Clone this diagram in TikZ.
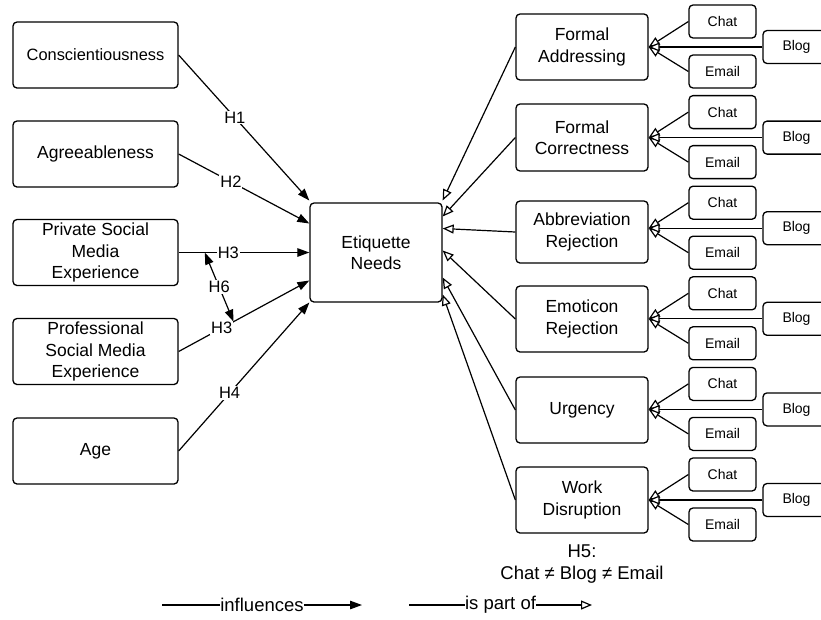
\documentclass[tikz,border=0pt]{standalone}
\usepackage{fontspec}
\setmainfont{Liberation Sans}
\usetikzlibrary{arrows.meta,calc}
\begin{document}
\begin{tikzpicture}[x=1pt,y=-1pt,
  box/.style={draw, line width=1.3pt, rounded corners=4pt, align=center, inner sep=0pt,
    font=\fontsize{17.5}{21.5}\selectfont},
  leftbox/.style={box, minimum width=165pt, minimum height=66pt},
  midbox/.style={box, minimum width=132pt, minimum height=66pt},
  smallbox/.style={draw, line width=1.3pt, rounded corners=4pt, inner sep=0pt,
    minimum width=67pt, minimum height=33pt, font=\fontsize{14}{16}\selectfont},
  infl/.style={line width=1.2pt, -{Triangle[length=12pt,width=8.5pt]}},
  part/.style={line width=1.2pt, -{Triangle[length=11pt,width=9pt,fill=white]}},
  lbl/.style={fill=white, inner sep=1pt, font=\fontsize{16.5}{19}\selectfont},
  leglbl/.style={fill=white, inner sep=0.5pt, font=\fontsize{18.5}{21}\selectfont},
  txt/.style={align=center, inner sep=0pt, font=\fontsize{18.5}{22}\selectfont}]
\useasboundingbox (0,0) rectangle (821,619);
\clip (0,0) rectangle (821,619);

% left column
\node[leftbox, font=\fontsize{16.4}{20}\selectfont] (con) at (95.5,55) {Conscientiousness};
\node[leftbox] (agr) at (95.5,154) {Agreeableness};
\node[leftbox] (pri) at (95.5,252.5) {Private Social\\Media\\Experience};
\node[leftbox] (pro) at (95.5,351.5) {Professional\\Social Media\\Experience};
\node[leftbox] (age) at (95.5,451) {Age};

% centre
\node[box, minimum width=132pt, minimum height=99pt] (etq) at (376,252.5) {Etiquette\\Needs};

% middle-right column
\node[midbox] (fa) at (582,47) {Formal\\Addressing};
\node[midbox, minimum height=67pt] (fc) at (582,137.5) {Formal\\Correctness};
\node[midbox, minimum height=62pt] (ab) at (582,232) {Abbreviation\\Rejection};
\node[midbox] (em) at (582,319) {Emoticon\\Rejection};
\node[midbox] (ur) at (582,410) {Urgency};
\node[midbox] (wd) at (582,500) {Work\\Disruption};

% channels
\foreach \m [count=\i from 0] in {fa,fc,ab,em,ur,wd} {
  \pgfmathsetmacro{\yc}{21.5+90.6*\i}
  \pgfmathsetmacro{\ye}{71.5+90.6*\i}
  \pgfmathsetmacro{\yb}{47+90.6*\i}
  \node[smallbox] (chat\i) at (722.5,\yc) {Chat};
  \node[smallbox] (mail\i) at (722.5,\ye) {Email};
  \node[smallbox] (blog\i) at (796.5,\yb) {Blog};
  \coordinate (t\i) at (blog\i.west -| \m.east);
  \draw[part] (chat\i.west) -- (t\i);
  \draw[part] (mail\i.west) -- (t\i);
  \draw[part] (blog\i.west) -- (t\i);
}

% influences
\draw[infl] (con.east) -- node[lbl, pos=0.43] {H1} ($(etq.west)+(0,-52)$);
\draw[infl] (agr.east) -- node[lbl, pos=0.4] {H2} ($(etq.west)+(0,-29)$);
\draw[infl] (pri.east) -- node[lbl, pos=0.38] {H3} (etq.west)
  coordinate[pos=0.2] (h6a);
\draw[infl] (pro.east) -- node[lbl, pos=0.33] {H3} ($(etq.west)+(0,28)$)
  coordinate[pos=0.42] (h6b);
\draw[infl] (age.east) -- node[lbl, pos=0.39] {H4} ($(etq.west)+(0,50)$);
\draw[line width=1.2pt, {Triangle[length=12pt,width=8.5pt]}-{Triangle[length=12pt,width=8.5pt]}]
  (h6a) -- node[lbl] {H6} (h6b);

% is part of
\draw[part] (fa.west) -- ($(etq.east)+(0,-52)$);
\draw[part] (fc.west) -- ($(etq.east)+(0,-36)$);
\draw[part] (ab.west) -- ($(etq.east)+(0,-24)$);
\draw[part] (em.west) -- ($(etq.east)+(0,-2)$);
\draw[part] (ur.west) -- ($(etq.east)+(0,25)$);
\draw[part] (wd.west) -- ($(etq.east)+(0,42)$);

% H5
\node[txt] (h5) at (582,564) {H5:\\Chat ≠ Blog ≠ Email};

% legend
\coordinate (la) at (162,605);
\coordinate (lb) at (362,605);
\coordinate (pa) at (409,605);
\coordinate (pb) at (592,605);
\draw[infl] (la) -- node[leglbl] {influences} (lb);
\draw[part] (pa) -- node[leglbl] {is part of} (pb);
\end{tikzpicture}
\end{document}
